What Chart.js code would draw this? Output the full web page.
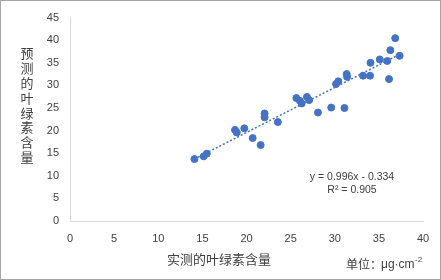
<!DOCTYPE html>
<html lang="zh">
<head>
  <meta charset="UTF-8">
  <title>实测与预测叶绿素含量</title>
  <style>
    body {
      margin: 0;
      background-color: #ffffff;
    }

    .chart-box {
      position: relative;
      width: 441px;
      height: 280px;
    }
  </style>
</head>
<body>
  <div class="chart-box">
    <canvas id="scatterChart" width="441" height="280"></canvas>
  </div>

  <script src="https://cdn.jsdelivr.net/npm/chart.js"></script>
  <script>
    const measured = [14.1, 15.15, 15.5, 18.7, 18.9, 19.75, 20.7, 21.6, 22.05, 22.05, 23.55,
      25.65, 26.05, 26.25, 26.85, 27.1, 28.1, 29.6, 31.1, 30.15, 30.4, 31.35, 31.4,
      33.2, 34.0, 34.05, 35.1, 35.95, 36.15, 36.3, 36.85, 37.35];
    const predicted = [13.7, 14.3, 14.9, 20.15, 19.6, 20.5, 18.35, 16.8, 23.8, 22.95, 21.9,
      27.2, 26.6, 26.0, 27.45, 26.75, 24.0, 25.1, 25.0, 30.3, 30.9, 32.5, 31.9,
      32.15, 32.15, 35.0, 35.75, 35.4, 31.4, 37.8, 40.45, 36.55];

    // linear trend line shown on the chart
    const slope = 0.996;
    const intercept = -0.334;
    const r2 = 0.905;

    const xTicks = [0, 5, 10, 15, 20, 25, 30, 35, 40];
    const yTicks = [0, 5, 10, 15, 20, 25, 30, 35, 40, 45];

    const yTitle = '预测的叶绿素含量';
    const xTitle = '实测的叶绿素含量';
    const unitLabel = '单位：';
    const unitText = 'μg·cm';
    const unitSup = '-2';

    const blue = '#4472c4';
    const textColor = '#404040';
    const cjkFont = '"Noto Sans CJK SC", sans-serif';
    const latinFont = '"Liberation Sans", sans-serif';

    const points = measured.map((x, i) => ({ x: x, y: predicted[i] }));
    const xMin = Math.min(...measured);
    const xMax = Math.max(...measured);
    const trend = [
      { x: xMin, y: slope * xMin + intercept },
      { x: xMax, y: slope * xMax + intercept }
    ];

    // titles, equation and frame drawn on top of the chart
    const extraText = {
      id: 'extraText',
      afterDraw(chart) {
        const ctx = chart.ctx;
        ctx.save();
        ctx.fillStyle = textColor;

        // vertical y title, one character per row
        ctx.font = '13px ' + cjkFont;
        ctx.textAlign = 'center';
        ctx.textBaseline = 'middle';
        for (let i = 0; i < yTitle.length; i++) {
          ctx.fillText(yTitle[i], 27, 53 + i * 14.9);
        }

        // x title
        ctx.fillText(xTitle, 219, 259);

        // unit: 单位：μg·cm⁻²
        let ux = 346;
        ctx.textAlign = 'left';
        ctx.font = '12px ' + cjkFont;
        ctx.fillText(unitLabel, ux, 264);
        ux += ctx.measureText(unitLabel).width - 1;
        ctx.font = '12px ' + latinFont;
        ctx.fillText(unitText, ux, 265);
        ux += ctx.measureText(unitText).width + 0.5;
        ctx.font = '8px ' + latinFont;
        ctx.fillText(unitSup, ux, 260);

        // regression equation
        ctx.font = '10.5px ' + latinFont;
        ctx.textAlign = 'center';
        ctx.fillText('y = ' + slope.toFixed(3) + 'x - ' + Math.abs(intercept).toFixed(3), 352, 177);
        ctx.fillText('R² = ' + r2.toFixed(3), 352, 190);

        // outer frame
        ctx.strokeStyle = '#a6a6a6';
        ctx.lineWidth = 1;
        ctx.strokeRect(0.5, 0.5, chart.width - 1, chart.height - 1);
        ctx.restore();
      }
    };

    const ctx = document.getElementById('scatterChart').getContext('2d');
    const scatterChart = new Chart(ctx, {
      type: 'scatter',
      data: {
        datasets: [{
          label: '叶绿素含量',
          data: points,
          backgroundColor: blue,
          borderColor: blue,
          pointRadius: 3.5,
          pointHoverRadius: 3.5
        }, {
          type: 'line',
          label: '趋势线',
          data: trend,
          borderColor: blue,
          borderWidth: 1.5,
          borderDash: [2, 2],
          pointRadius: 0,
          fill: false
        }]
      },
      options: {
        responsive: false,
        animation: false,
        layout: {
          padding: { left: 0, right: 18, top: 17, bottom: 0 }
        },
        plugins: {
          legend: { display: false },
          tooltip: { enabled: false }
        },
        scales: {
          x: {
            type: 'linear',
            min: 0,
            max: 40,
            afterBuildTicks(scale) {
              scale.ticks = xTicks.map(v => ({ value: v }));
            },
            afterFit(scale) {
              scale.height = 59;
            },
            grid: { display: false, drawTicks: false },
            border: { display: true, color: '#d9d9d9', width: 1 },
            ticks: {
              padding: 11,
              color: textColor,
              font: { family: latinFont, size: 11 }
            }
          },
          y: {
            type: 'linear',
            min: 0,
            max: 45,
            afterBuildTicks(scale) {
              scale.ticks = yTicks.map(v => ({ value: v }));
            },
            afterFit(scale) {
              scale.width = 70;
            },
            grid: { display: false, drawTicks: false },
            border: { display: true, color: '#d9d9d9', width: 1 },
            ticks: {
              padding: 11,
              color: textColor,
              font: { family: latinFont, size: 11 }
            }
          }
        }
      },
      plugins: [extraText]
    });
  </script>
</body>
</html>
